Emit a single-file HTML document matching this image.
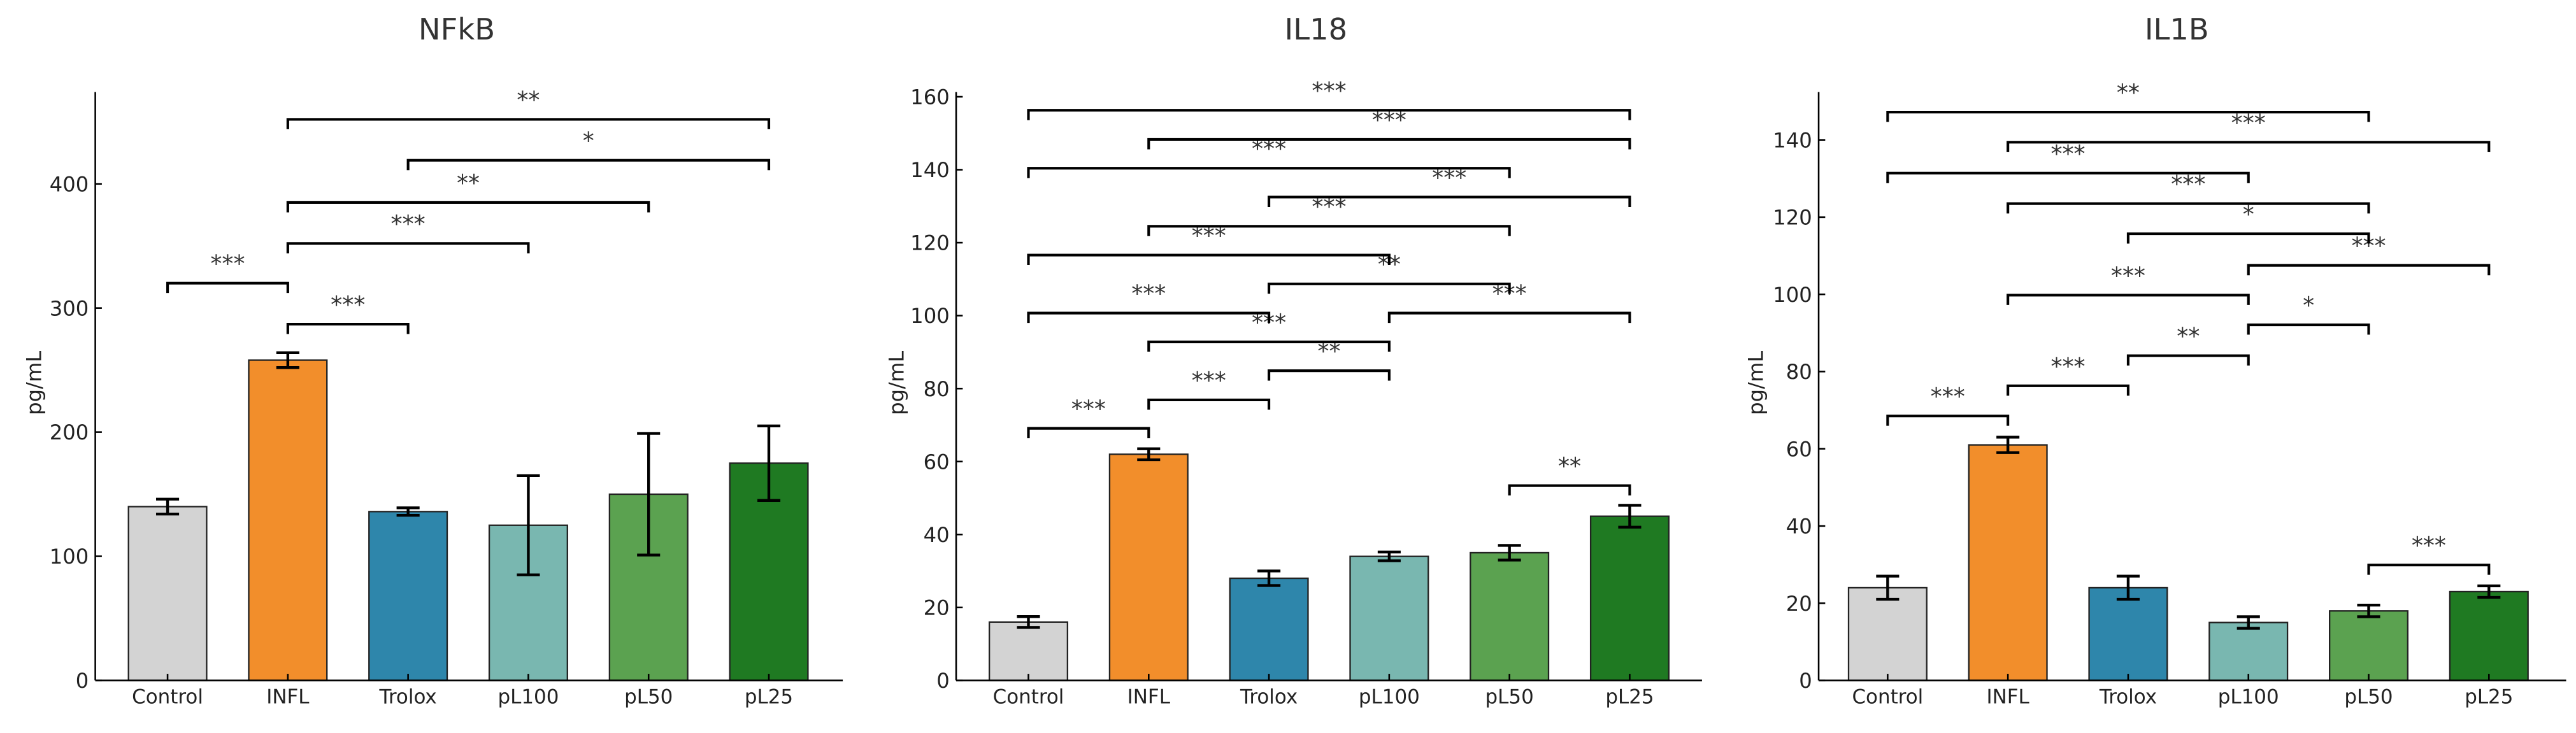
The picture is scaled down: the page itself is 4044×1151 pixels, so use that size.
<!DOCTYPE html>
<html><head><meta charset="utf-8"><style>
html,body{margin:0;padding:0;background:#fff;}
svg{display:block;font-family:"DejaVu Sans","Liberation Sans",sans-serif;}
</style></head><body>
<svg id="fig" width="4044" height="1151" viewBox="0 0 1568 446" preserveAspectRatio="none" xmlns="http://www.w3.org/2000/svg"></svg>
<script>
const categories = ["Control","INFL","Trolox","pL100","pL50","pL25"];
const colors = ["#d3d3d3","#f28e2b","#2e86ab","#79b7b0","#5ba250","#1f7a22"];
const nfkbValues = [140,258,136,125,150,175];
const nfkbErrors = [6,6,3,40,49,30];
const nfkbTicks = [0,100,200,300,400];
const nfkbSig = [[0,1,320,"***"],[1,2,287,"***"],[1,3,352,"***"],[1,4,385,"**"],[2,5,419,"*"],[1,5,452,"**"]];
const il18Values = [16,62,28,34,35,45];
const il18Errors = [1.5,1.5,2,1.2,2,3];
const il18Ticks = [0,20,40,60,80,100,120,140,160];
const il18Sig = [[0,1,69.1,"***"],[1,2,76.9,"***"],[2,3,84.9,"**"],[1,3,92.8,"***"],[0,2,100.7,"***"],[3,5,100.7,"***"],[2,4,108.7,"**"],[0,3,116.6,"***"],[1,4,124.5,"***"],[2,5,132.5,"***"],[0,4,140.4,"***"],[1,5,148.3,"***"],[0,5,156.3,"***"],[4,5,53.4,"**"]];
const il1bValues = [24,61,24,15,18,23];
const il1bErrors = [3,2,3,1.5,1.5,1.5];
const il1bTicks = [0,20,40,60,80,100,120,140];
const il1bSig = [[0,1,68.5,"***"],[1,2,76.3,"***"],[2,3,84.1,"**"],[3,4,92.1,"*"],[1,3,99.8,"***"],[3,5,107.5,"***"],[2,4,115.7,"*"],[1,4,123.5,"***"],[0,3,131.4,"***"],[1,5,139.4,"***"],[0,4,147.2,"**"],[4,5,29.9,"***"]];

const NS="http://www.w3.org/2000/svg";
const svg=document.getElementById('fig');
function mk(tag,attrs,parent){const e=document.createElementNS(NS,tag);for(const k in attrs)e.setAttribute(k,attrs[k]);(parent||svg).appendChild(e);return e;}

const panels=[
 {name:"nfkb",title:"NFkB",vals:nfkbValues,errs:nfkbErrors,ticks:nfkbTicks,sig:nfkbSig,x0:58,x1:513,c0:102,step:73.2,ymax:474,tx:278,lx:20},
 {name:"il18",title:"IL18",vals:il18Values,errs:il18Errors,ticks:il18Ticks,sig:il18Sig,x0:582,x1:1036,c0:626,step:73.2,ymax:161.3,tx:801,lx:545},
 {name:"il1b",title:"IL1B",vals:il1bValues,errs:il1bErrors,ticks:il1bTicks,sig:il1bSig,x0:1107,x1:1562,c0:1149,step:73.2,ymax:152.4,tx:1325,lx:1068}
];
const yBot=414, yTop=56;
panels.forEach(p=>{
  const g=mk('g',{});
  
  
  const y=v=>yBot-(v/p.ymax)*(yBot-yTop);
  const x=i=>p.c0+i*p.step;
  const bw=p.step*0.65;
  const t=mk('text',{x:p.tx,y:24,'text-anchor':'middle','font-size':18,fill:'#333'},g);t.textContent=p.title;
  
  
  const yl=mk('text',{x:0,y:0,transform:`translate(${p.lx+5},${233}) rotate(-90)`,'text-anchor':'middle','font-size':12.5,fill:'#222'},g);yl.textContent="pg/mL";
  
  
  p.vals.forEach((v,i)=>{
    const r=mk('rect',{x:x(i)-bw/2,y:y(v),width:bw,height:yBot-y(v),fill:colors[i],stroke:'#222','stroke-width':0.9},g);
    
    
    const e=p.errs[i];
    const eg=mk('g',{stroke:'#000','stroke-width':1.7,fill:'none'},g);
    
    
    mk('line',{x1:x(i),x2:x(i),y1:y(v-e),y2:y(v+e)},eg);
    mk('line',{x1:x(i)-7,x2:x(i)+7,y1:y(v-e),y2:y(v-e)},eg);
    mk('line',{x1:x(i)-7,x2:x(i)+7,y1:y(v+e),y2:y(v+e)},eg);
  });
  const ax=mk('g',{stroke:'#000','stroke-width':1},g);
  
  
  mk('line',{x1:p.x0,x2:p.x0,y1:yTop,y2:yBot},ax);
  mk('line',{x1:p.x0,x2:p.x1,y1:yBot,y2:yBot},ax);
  p.ticks.forEach(tv=>{
    mk('line',{x1:p.x0,x2:p.x0+4,y1:y(tv),y2:y(tv)},ax);
    const tl=mk('text',{x:p.x0-4,y:y(tv)+4.5,'text-anchor':'end','font-size':12.5,fill:'#222'},g);tl.textContent=tv;
    
    
  });
  categories.forEach((c,i)=>{
    mk('line',{x1:x(i),x2:x(i),y1:yBot,y2:yBot-4},ax);
    const cl=mk('text',{x:x(i),y:428,'text-anchor':'middle','font-size':12,fill:'#222'},g);cl.textContent=c;
    
    
  });
  p.sig.forEach(s=>{
    const [a,b,v,lab]=s;const yy=y(v);
    const sg=mk('g',{},g);
    
    
    mk('path',{d:`M${x(a)},${yy+6} V${yy} H${x(b)} V${yy+6}`,stroke:'#000','stroke-width':1.6,fill:'none'},sg);
    const st=mk('text',{x:(x(a)+x(b))/2,y:yy-7,'text-anchor':'middle','font-size':14,fill:'#333'},sg);st.textContent=lab;
  });
});
</script>
</body></html>
